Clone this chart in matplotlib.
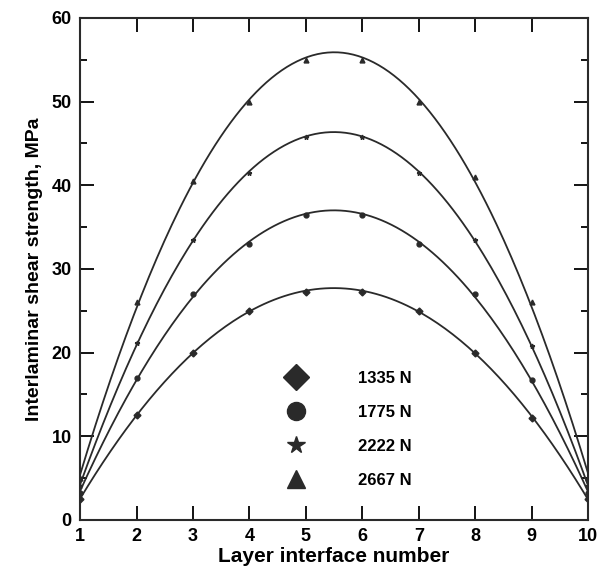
import numpy as np
import matplotlib
matplotlib.use('Agg')
import matplotlib.pyplot as plt
from matplotlib.ticker import MultipleLocator

plt.rcParams['font.family'] = ['Liberation Sans', 'DejaVu Sans']
plt.rcParams['font.weight'] = 'bold'

layers = [1, 2, 3, 4, 5, 6, 7, 8, 9, 10]
s1335 = [2.5, 12.5, 20.0, 25.0, 27.3, 27.3, 25.0, 20.0, 12.2, 2.5]
s1775 = [3.2, 17.0, 27.0, 33.0, 36.5, 36.5, 33.0, 27.0, 16.7, 3.2]
s2222 = [4.0, 21.2, 33.5, 41.5, 45.8, 45.8, 41.5, 33.5, 20.8, 4.0]
s2667 = [5.0, 26.0, 40.5, 50.0, 55.0, 55.0, 50.0, 41.0, 26.0, 5.0]
loads = ['1335 N', '1775 N', '2222 N', '2667 N']
markers = ['D', 'o', '*', '^']

fig = plt.figure(figsize=(6.02, 5.79), dpi=100)
ax = fig.add_axes([0.133, 0.102, 0.844, 0.867])

xs = np.linspace(1, 10, 200)
for ys, lab, m in zip([s1335, s1775, s2222, s2667], loads, markers):
    # curves in the original are smooth parabolas through the points
    fit = np.polyfit(layers, ys, 2)
    ax.plot(xs, np.polyval(fit, xs), color='#2a2a2a', lw=1.3)
    ax.plot(layers, ys, ls='none', marker=m, color='#2a2a2a', ms=3.5)
    ax.plot([], [], ls='none', marker=m, color='#2a2a2a', ms=13, label=lab)

ax.set_xlim(1, 10)
ax.set_ylim(0, 60)
ax.set_xticks(range(1, 11))
ax.yaxis.set_major_locator(MultipleLocator(10))
ax.yaxis.set_minor_locator(MultipleLocator(5))
ax.tick_params(which='both', direction='in', top=True, right=True,
               labelsize=13, width=1.3, pad=6)
ax.tick_params(which='major', length=10)
ax.tick_params(which='minor', length=5)
for sp in ax.spines.values():
    sp.set_linewidth(1.5)
    sp.set_color('#2a2a2a')

ax.set_xlabel('Layer interface number', fontsize=15, fontweight='bold', labelpad=1)
ax.set_ylabel('Interlaminar shear strength, MPa', fontsize=14, fontweight='bold', labelpad=6)

ax.legend(loc='upper left', bbox_to_anchor=(0.38, 0.327), frameon=False,
          fontsize=12, handletextpad=3.2, labelspacing=1.15, handlelength=1)

fig.savefig('out.png', dpi=100)
